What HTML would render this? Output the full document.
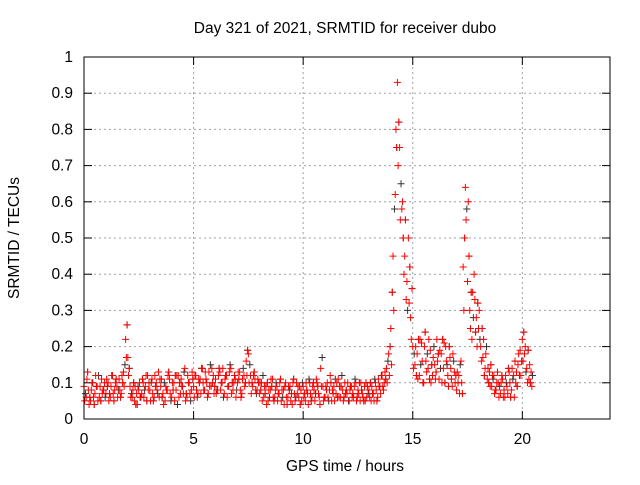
<!DOCTYPE html>
<html><head><meta charset="utf-8"><style>
body{margin:0;background:#fff;width:640px;height:480px;overflow:hidden}
svg{font-family:"Liberation Sans",sans-serif;font-size:15.5px}
</style></head><body>
<svg id="chart" width="640" height="480">
<rect width="640" height="480" fill="#fff"/>
<text x="345" y="33" text-anchor="middle">Day 321 of 2021, SRMTID for receiver dubo</text>
<text x="345" y="471" text-anchor="middle">GPS time / hours</text>
<text transform="translate(19,238) rotate(-90)" text-anchor="middle">SRMTID / TECUs</text>
<g id="grid"></g><g id="ticks"></g><g id="marks"></g>
<rect x="84" y="57" width="526" height="362" fill="none" stroke="#000"/>
</svg>
<script>
const xTicks=[0,5,10,15,20];
const yTicks=[0,0.1,0.2,0.3,0.4,0.5,0.6,0.7,0.8,0.9,1];
const yTickLabels=["0","0.1","0.2","0.3","0.4","0.5","0.6","0.7","0.8","0.9","1"];
const startHour=0, stepHour=0.1;
const seriesA=[.09,.06,.08,.05,.1,.07,.09,.06,.11,.08,
.07,.1,.06,.12,.08,.09,.11,.07,.13,.22,
.17,.09,.06,.05,.07,.08,.06,.1,.09,.12,
.08,.11,.06,.1,.13,.09,.07,.05,.08,.11,
.06,.1,.08,.12,.07,.09,.14,.06,.1,.08,
.09,.12,.07,.11,.14,.08,.1,.13,.09,.12,
.11,.08,.13,.1,.07,.12,.09,.14,.08,.11,
.1,.13,.07,.12,.16,.18,.12,.09,.11,.08,
.07,.1,.06,.09,.05,.08,.11,.06,.09,.07,
.05,.08,.1,.06,.09,.04,.07,.1,.06,.08,
.09,.05,.07,.1,.06,.08,.11,.07,.14,.09,
.06,.1,.08,.05,.09,.07,.11,.06,.08,.1,
.07,.05,.09,.06,.1,.08,.05,.07,.09,.06,
.08,.05,.07,.1,.06,.09,.12,.1,.14,.18,
.25,.45,.62,.93,.75,.58,.4,.33,.5,.28,
.2,.15,.18,.12,.21,.1,.16,.14,.19,.12,
.15,.22,.11,.18,.14,.2,.12,.17,.09,.13,
.08,.12,.16,.42,.64,.38,.3,.22,.4,.28,
.25,.2,.17,.14,.11,.13,.09,.12,.08,.1,
.07,.11,.06,.09,.13,.08,.12,.1,.15,.19,
.22,.18,.14,.11,.13];
const seriesB=[.05,.11,.04,.08,.06,.12,.05,.09,.07,.1,
.11,.05,.09,.07,.1,.06,.08,.12,.09,.17,
.12,.06,.08,.09,.04,.1,.07,.06,.12,.08,
.05,.07,.12,.08,.06,.11,.04,.09,.12,.07,
.1,.05,.12,.06,.11,.07,.05,.12,.07,.13,
.06,.08,.11,.07,.1,.13,.06,.09,.14,.07,
.07,.12,.08,.14,.11,.06,.13,.07,.1,.06,
.13,.08,.11,.09,.12,.1,.07,.12,.08,.11,
.1,.05,.09,.04,.08,.11,.06,.08,.05,.1,
.08,.04,.06,.09,.05,.1,.05,.07,.09,.05,
.06,.1,.04,.07,.09,.05,.1,.06,.09,.05,
.09,.06,.12,.08,.05,.1,.06,.09,.05,.07,
.1,.08,.06,.09,.05,.07,.1,.06,.05,.09,
.06,.09,.05,.08,.11,.07,.09,.13,.1,.12,
.15,.3,.8,.7,.55,.6,.45,.38,.32,.22,
.14,.2,.11,.22,.16,.2,.13,.22,.1,.17,
.11,.16,.19,.1,.21,.16,.09,.14,.18,.1,
.13,.07,.1,.3,.55,.6,.25,.35,.33,.2,
.3,.16,.22,.18,.14,.09,.12,.07,.1,.06,
.1,.06,.12,.07,.1,.14,.06,.13,.18,.12,
.16,.2,.1,.15,.09];
const seriesC=[.07,.13,.06,.1,.04,.09,.12,.05,.08,.06,
.09,.07,.12,.05,.11,.08,.06,.1,.15,.26,
.14,.07,.1,.04,.09,.06,.11,.08,.05,.1,
.1,.05,.09,.07,.11,.06,.1,.08,.13,.05,
.08,.12,.04,.1,.09,.13,.07,.1,.05,.11,
.12,.06,.1,.14,.08,.11,.07,.15,.1,.09,
.08,.14,.1,.06,.12,.09,.15,.1,.12,.08,
.11,.06,.14,.1,.19,.15,.1,.13,.07,.1,
.08,.12,.07,.1,.06,.09,.05,.1,.07,.11,
.06,.09,.04,.08,.07,.11,.06,.09,.04,.1,
.07,.08,.11,.05,.1,.07,.09,.04,.17,.06,
.08,.05,.1,.07,.11,.06,.09,.12,.06,.08,
.05,.09,.07,.11,.06,.1,.08,.05,.1,.07,
.1,.07,.11,.05,.09,.12,.08,.11,.16,.2,
.35,.58,.75,.82,.65,.5,.55,.3,.42,.36,
.18,.12,.22,.15,.1,.24,.18,.11,.15,.2,
.13,.18,.14,.22,.1,.15,.2,.11,.16,.12,
.1,.15,.07,.5,.58,.45,.35,.28,.24,.32,
.22,.25,.12,.2,.1,.15,.11,.08,.13,.09,
.12,.08,.1,.14,.06,.11,.16,.09,.12,.16,
.24,.13,.19,.1,.12];
const NS="http://www.w3.org/2000/svg";
const X0=84,X1=610,Y0=419,Y1=57,XMAX=24,YMAX=1;
const xs=v=>X0+(v/XMAX)*(X1-X0);
const ys=v=>Y0-(v/YMAX)*(Y0-Y1);
const grid=document.getElementById('grid'),ticks=document.getElementById('ticks'),marks=document.getElementById('marks');
function mk(tag,attrs,parent){const e=document.createElementNS(NS,tag);for(const k in attrs)e.setAttribute(k,attrs[k]);parent.appendChild(e);return e;}
xTicks.forEach(t=>{const x=xs(t);
 const g=mk('line',{x1:x,x2:x,y1:Y1,y2:Y0,stroke:'#a0a0a0','stroke-dasharray':'2,3'},grid);
 
 
 const a=mk('line',{x1:x,x2:x,y1:Y0,y2:Y0-8,stroke:'#000'},ticks);
 
 
 const b=mk('line',{x1:x,x2:x,y1:Y1,y2:Y1+8,stroke:'#000'},ticks);
 
 
 const l=mk('text',{x:x,y:444,'text-anchor':'middle'},ticks);l.textContent=String(t);
 
 
});
yTicks.forEach((t,i)=>{const y=ys(t);
 const g=mk('line',{x1:X0,x2:X1,y1:y,y2:y,stroke:'#a0a0a0','stroke-dasharray':'2,3'},grid);
 
 
 const a=mk('line',{x1:X0,x2:X0+8,y1:y,y2:y,stroke:'#000'},ticks);
 
 
 const b=mk('line',{x1:X1,x2:X1-8,y1:y,y2:y,stroke:'#000'},ticks);
 
 
 const l=mk('text',{x:73,y:y+5,'text-anchor':'end'},ticks);l.textContent=yTickLabels[i];
 
 
});
function plus(t,v,color){const x=xs(t),y=ys(v);
 const p=mk('path',{d:`M${x-3.5},${y}h7M${x},${y-3.5}v7`,stroke:color,'stroke-width':1,fill:'none'},marks);
 
 
}
seriesC.forEach((v,i)=>plus(startHour+i*stepHour+0.066,v,'#333'));
seriesA.forEach((v,i)=>plus(startHour+i*stepHour,v,'#ff0000'));
seriesB.forEach((v,i)=>plus(startHour+i*stepHour+0.033,v,'#ff0000'));
seriesC.forEach((v,i)=>{if(i%3!==0)plus(startHour+i*stepHour+0.066,v,'#ff0000');});
</script>
</body></html>
